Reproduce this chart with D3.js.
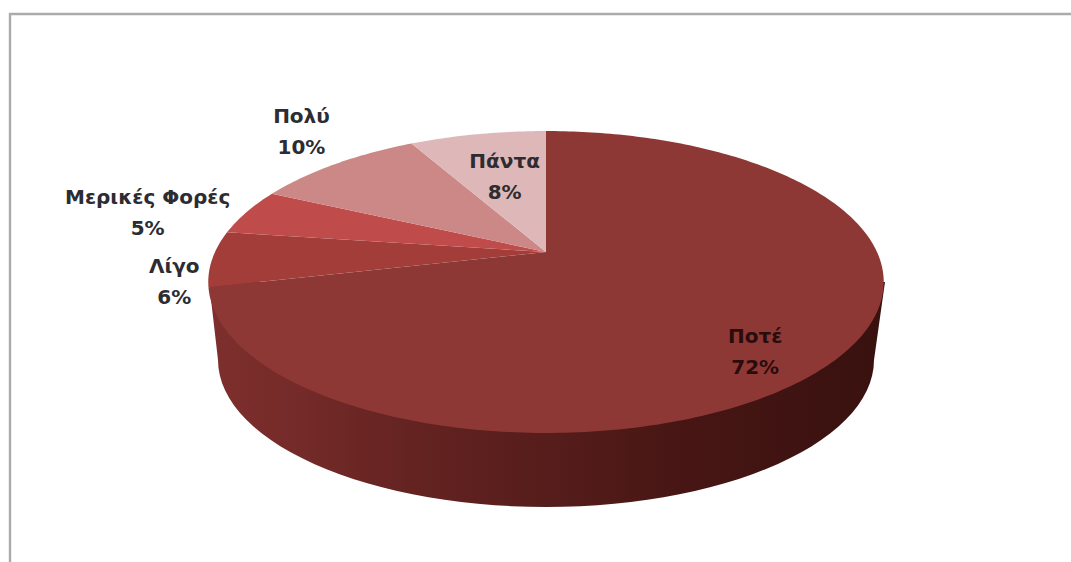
<!DOCTYPE html>
<html>
<head>
<meta charset="utf-8">
<script src="https://cdn.jsdelivr.net/npm/d3@7"></script>
<style>
  html, body { margin: 0; padding: 0; background: #fff; }
  svg { display: block; }
  text { font-family: "DejaVu Sans", sans-serif; font-weight: 700; text-anchor: middle; }
</style>
</head>
<body>
<svg id="chart" width="1071" height="562"></svg>
<script>
// Survey answers and their shares (percent), clockwise from twelve o'clock
const categories = ["Ποτέ", "Λίγο", "Μερικές Φορές", "Πολύ", "Πάντα"];
const shares = [72, 6, 5, 10, 8];
const sliceColors = ["#8e3836", "#a33d3a", "#bf4c4a", "#cc8886", "#deb8b8"];
const labelColors = ["#2a0c0c", "#2c2c32", "#2c2c32", "#2c2c32", "#2c2c32"];

// Label nudges in pixels, measured from the rim midpoint of each slice
const labelOffsets = [[-87, -12], [-38, 14], [-99, -8], [-34, -41], [27, 34]];

// Shading of the cylinder wall, left to right
const wallStops = [
  [0, "#7e2f2d"], [0.12, "#752b29"], [0.3, "#642321"],
  [0.5, "#561d1b"], [0.7, "#471614"], [1, "#38110f"]
];

const svg = d3.select("#chart");

// Chart frame: only the top and left edges are in view
svg.append("path")
  .attr("d", "M1071,14 H10 V562")
  .attr("fill", "none").attr("stroke", "#ababab").attr("stroke-width", 2.4);

// Perspective tilt of the disc: near half looks larger than the far half
const tilt = -0.1987;
const xScale = d3.scaleLinear().domain([-1, 1]).range([546 - 331, 546 + 331]);
const yScale = d3.scaleLinear().domain([-1, 1]).range([252 - 145, 252 + 145]);

// Map a pie angle (radians, clockwise from the top) to the tilted disc
function project(angle, radius = 1) {
  const X = Math.sin(angle) * radius, Y = -Math.cos(angle) * radius;
  const w = 1 + tilt * Y;
  return [xScale(X / w), yScale(Y / w)];
}

const pie = d3.pie().value(d => d).sort(null);
const arcs = pie(shares);
const outline = d3.line();

// Gradient for the side wall
const grad = svg.append("defs").append("linearGradient")
  .attr("id", "wall").attr("gradientUnits", "userSpaceOnUse")
  .attr("x1", 209).attr("x2", 885).attr("y1", 0).attr("y2", 0);
grad.selectAll("stop").data(wallStops).join("stop")
  .attr("offset", d => d[0]).attr("stop-color", d => d[1]);

// Side wall: straight shoulders down to the lower ellipse
const lowerX = d3.scaleLinear().domain([-1, 1]).range([546 - 328, 546 + 328]);
const lowerY = d3.scaleLinear().domain([-1, 1]).range([360 - 147, 360 + 147]);
const sweep = d3.range(0, 181, 3).map(a => a * Math.PI / 180);
const wallPoints = [
  [209, 282],
  ...sweep.map(t => [lowerX(-Math.cos(t)), lowerY(Math.sin(t))]),
  [885, 282]
];
svg.append("path").attr("d", outline(wallPoints) + "Z").attr("fill", "url(#wall)");

// Top face slices
svg.append("g").selectAll("path").data(arcs).join("path")
  .attr("fill", (d, i) => sliceColors[i])
  .attr("d", d => {
    const n = Math.max(8, Math.ceil((d.endAngle - d.startAngle) * 60));
    const rim = d3.range(n + 1).map(i =>
      project(d.startAngle + (d.endAngle - d.startAngle) * i / n));
    return outline([project(0, 0), ...rim]) + "Z";
  });

// Two-line labels: name and share
const labels = svg.append("g").selectAll("text").data(arcs).join("text")
  .attr("font-size", 20)
  .attr("fill", (d, i) => labelColors[i])
  .attr("transform", (d, i) => {
    const [x, y] = project((d.startAngle + d.endAngle) / 2);
    return `translate(${x + labelOffsets[i][0]},${y + labelOffsets[i][1]})`;
  });
labels.append("tspan").attr("x", 0).attr("y", 0).text((d, i) => categories[i]);
labels.append("tspan").attr("x", 0).attr("y", 31).text((d, i) => shares[i] + "%");
</script>
</body>
</html>
